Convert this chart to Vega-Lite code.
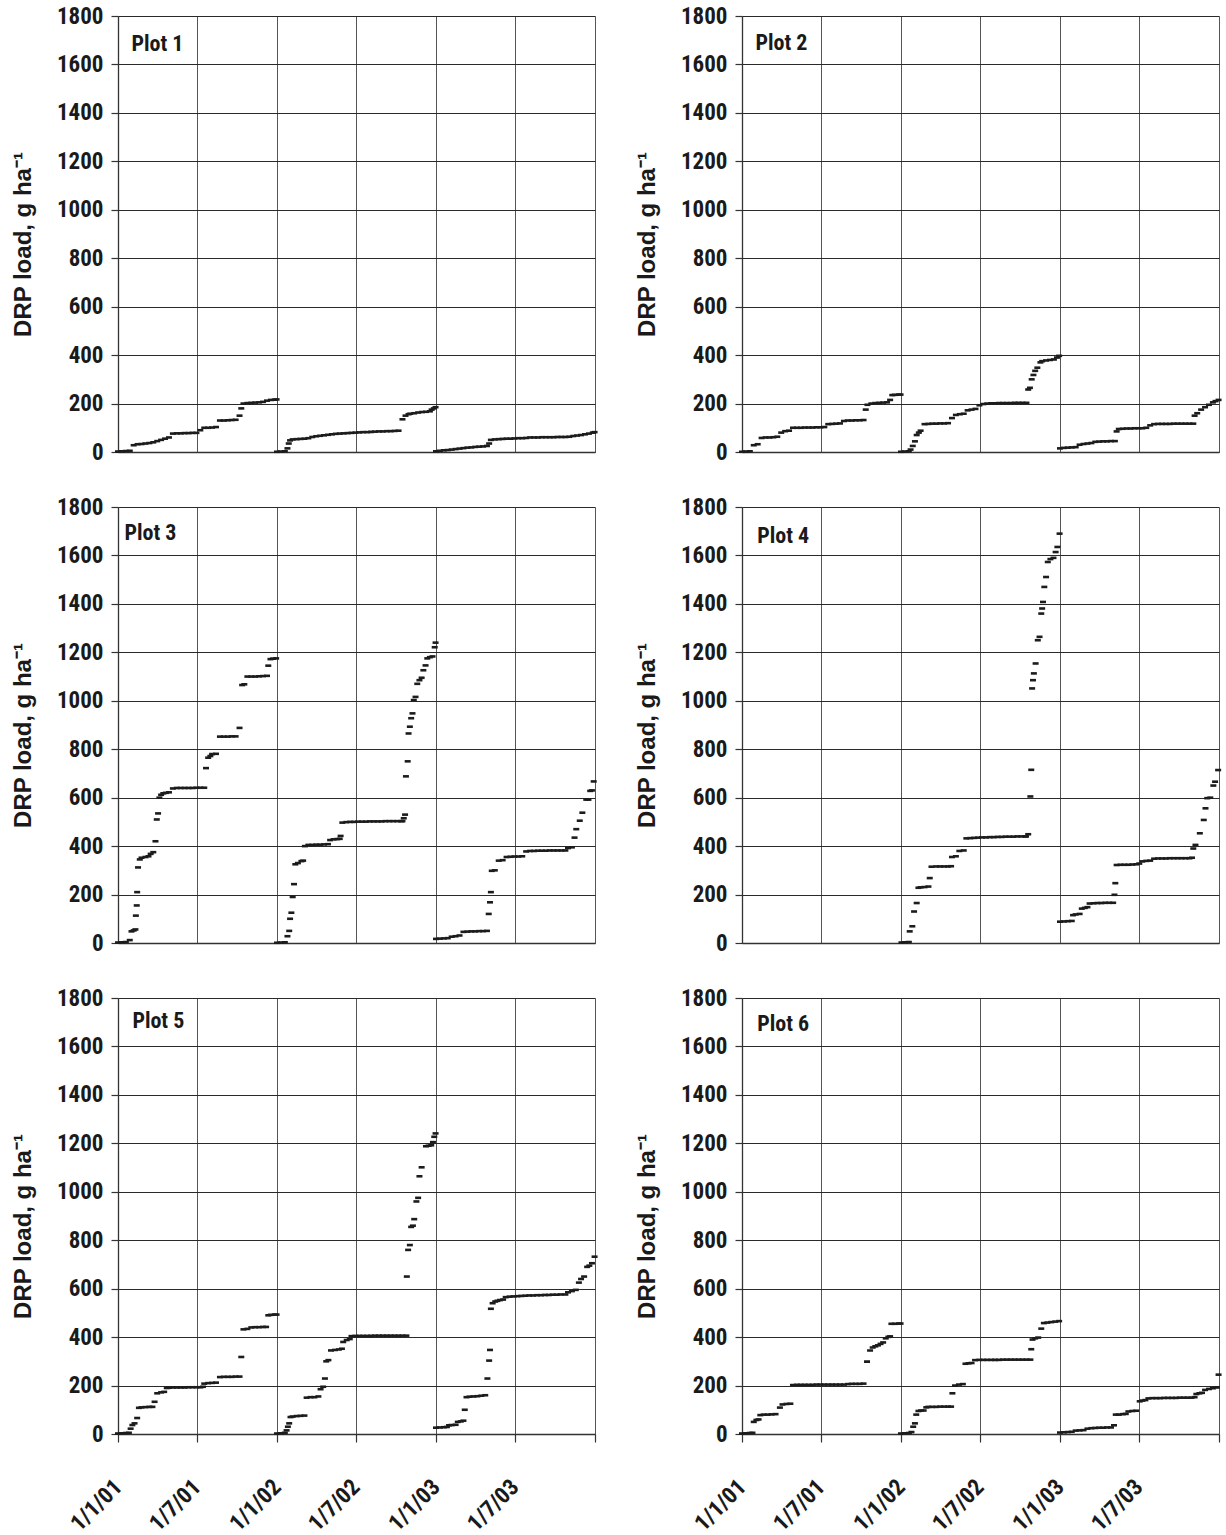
{
  "$schema": "https://vega.github.io/schema/vega-lite/v6.json",
  "background": "white",
  "padding": {"left": 11, "top": 5, "right": 2, "bottom": 0},
  "columns": 2,
  "spacing": {"row": 32, "column": 31},
  "datasets": {
    "plot1": [
      {"date":"2001-01-01","load":2},{"date":"2001-01-10","load":3},{"date":"2001-01-19","load":4},{"date":"2001-01-28","load":5},{"date":"2001-02-06","load":28},{"date":"2001-02-15","load":32},{"date":"2001-02-24","load":33},{"date":"2001-03-05","load":35},{"date":"2001-03-14","load":37},{"date":"2001-03-23","load":40},{"date":"2001-04-01","load":45},{"date":"2001-04-10","load":50},{"date":"2001-04-19","load":55},{"date":"2001-04-28","load":60},{"date":"2001-05-07","load":76},{"date":"2001-05-16","load":77},{"date":"2001-05-25","load":77},{"date":"2001-06-03","load":78},{"date":"2001-06-12","load":78},{"date":"2001-06-21","load":79},{"date":"2001-06-30","load":79},{"date":"2001-07-09","load":90},{"date":"2001-07-18","load":100},{"date":"2001-07-27","load":100},{"date":"2001-08-05","load":101},{"date":"2001-08-14","load":103},{"date":"2001-08-23","load":130},{"date":"2001-09-01","load":130},{"date":"2001-09-10","load":131},{"date":"2001-09-19","load":132},{"date":"2001-09-28","load":133},{"date":"2001-10-07","load":150},{"date":"2001-10-11","load":180},{"date":"2001-10-16","load":200},{"date":"2001-10-25","load":202},{"date":"2001-11-03","load":203},{"date":"2001-11-12","load":204},{"date":"2001-11-21","load":205},{"date":"2001-11-30","load":207},{"date":"2001-12-09","load":212},{"date":"2001-12-18","load":215},{"date":"2001-12-27","load":216},{"date":"2001-12-31","load":217},
      {"date":"2002-01-01","load":1},{"date":"2002-01-10","load":2},{"date":"2002-01-19","load":3},{"date":"2002-01-25","load":15},{"date":"2002-01-28","load":35},{"date":"2002-01-31","load":48},{"date":"2002-02-06","load":52},{"date":"2002-02-15","load":53},{"date":"2002-02-24","load":54},{"date":"2002-03-05","load":55},{"date":"2002-03-14","load":57},{"date":"2002-03-23","load":62},{"date":"2002-04-01","load":65},{"date":"2002-04-10","load":67},{"date":"2002-04-19","load":69},{"date":"2002-04-28","load":71},{"date":"2002-05-07","load":73},{"date":"2002-05-16","load":75},{"date":"2002-05-25","load":76},{"date":"2002-06-03","load":77},{"date":"2002-06-12","load":78},{"date":"2002-06-21","load":79},{"date":"2002-06-30","load":80},{"date":"2002-07-09","load":81},{"date":"2002-07-18","load":82},{"date":"2002-07-27","load":82},{"date":"2002-08-05","load":83},{"date":"2002-08-14","load":84},{"date":"2002-08-23","load":85},{"date":"2002-09-01","load":85},{"date":"2002-09-10","load":86},{"date":"2002-09-19","load":86},{"date":"2002-09-28","load":87},{"date":"2002-10-07","load":88},{"date":"2002-10-16","load":135},{"date":"2002-10-23","load":150},{"date":"2002-10-30","load":156},{"date":"2002-11-03","load":158},{"date":"2002-11-12","load":160},{"date":"2002-11-21","load":163},{"date":"2002-11-30","load":165},{"date":"2002-12-09","load":166},{"date":"2002-12-18","load":168},{"date":"2002-12-22","load":175},{"date":"2002-12-27","load":180},{"date":"2002-12-31","load":185},
      {"date":"2003-01-01","load":3},{"date":"2003-01-10","load":5},{"date":"2003-01-19","load":7},{"date":"2003-01-28","load":8},{"date":"2003-02-06","load":10},{"date":"2003-02-15","load":12},{"date":"2003-02-24","load":14},{"date":"2003-03-05","load":16},{"date":"2003-03-14","load":18},{"date":"2003-03-23","load":19},{"date":"2003-04-01","load":21},{"date":"2003-04-10","load":22},{"date":"2003-04-19","load":23},{"date":"2003-04-28","load":25},{"date":"2003-05-03","load":35},{"date":"2003-05-07","load":50},{"date":"2003-05-16","load":52},{"date":"2003-05-25","load":53},{"date":"2003-06-03","load":54},{"date":"2003-06-12","load":55},{"date":"2003-06-21","load":55},{"date":"2003-06-30","load":56},{"date":"2003-07-09","load":57},{"date":"2003-07-18","load":57},{"date":"2003-07-27","load":58},{"date":"2003-08-05","load":60},{"date":"2003-08-14","load":60},{"date":"2003-08-23","load":60},{"date":"2003-09-01","load":61},{"date":"2003-09-10","load":61},{"date":"2003-09-19","load":61},{"date":"2003-09-28","load":61},{"date":"2003-10-07","load":62},{"date":"2003-10-16","load":62},{"date":"2003-10-25","load":62},{"date":"2003-11-03","load":63},{"date":"2003-11-12","load":66},{"date":"2003-11-21","load":68},{"date":"2003-11-30","load":70},{"date":"2003-12-09","load":73},{"date":"2003-12-18","load":76},{"date":"2003-12-27","load":80},{"date":"2003-12-31","load":82}
    ],
    "plot2": [
      {"date":"2001-01-01","load":1},{"date":"2001-01-10","load":2},{"date":"2001-01-19","load":3},{"date":"2001-01-28","load":28},{"date":"2001-02-06","load":32},{"date":"2001-02-15","load":58},{"date":"2001-02-24","load":60},{"date":"2001-03-05","load":60},{"date":"2001-03-14","load":61},{"date":"2001-03-23","load":63},{"date":"2001-04-01","load":80},{"date":"2001-04-10","load":86},{"date":"2001-04-19","load":88},{"date":"2001-04-28","load":100},{"date":"2001-05-07","load":100},{"date":"2001-05-16","load":100},{"date":"2001-05-25","load":101},{"date":"2001-06-03","load":101},{"date":"2001-06-12","load":101},{"date":"2001-06-21","load":102},{"date":"2001-06-30","load":102},{"date":"2001-07-09","load":103},{"date":"2001-07-18","load":115},{"date":"2001-07-27","load":116},{"date":"2001-08-05","load":117},{"date":"2001-08-14","load":118},{"date":"2001-08-23","load":128},{"date":"2001-09-01","load":130},{"date":"2001-09-10","load":130},{"date":"2001-09-19","load":131},{"date":"2001-09-28","load":131},{"date":"2001-10-07","load":132},{"date":"2001-10-12","load":175},{"date":"2001-10-16","load":195},{"date":"2001-10-25","load":200},{"date":"2001-11-03","load":202},{"date":"2001-11-12","load":203},{"date":"2001-11-21","load":204},{"date":"2001-11-30","load":205},{"date":"2001-12-07","load":215},{"date":"2001-12-12","load":235},{"date":"2001-12-18","load":236},{"date":"2001-12-27","load":237},{"date":"2001-12-31","load":237},
      {"date":"2002-01-01","load":1},{"date":"2002-01-10","load":2},{"date":"2002-01-19","load":3},{"date":"2002-01-23","load":10},{"date":"2002-01-28","load":25},{"date":"2002-02-02","load":44},{"date":"2002-02-06","load":70},{"date":"2002-02-11","load":80},{"date":"2002-02-15","load":88},{"date":"2002-02-24","load":115},{"date":"2002-03-05","load":116},{"date":"2002-03-14","load":117},{"date":"2002-03-23","load":117},{"date":"2002-04-01","load":118},{"date":"2002-04-10","load":118},{"date":"2002-04-19","load":119},{"date":"2002-04-28","load":140},{"date":"2002-05-07","load":153},{"date":"2002-05-16","load":156},{"date":"2002-05-25","load":158},{"date":"2002-06-03","load":172},{"date":"2002-06-12","load":175},{"date":"2002-06-21","load":178},{"date":"2002-06-30","load":193},{"date":"2002-07-09","load":198},{"date":"2002-07-18","load":200},{"date":"2002-07-27","load":201},{"date":"2002-08-05","load":201},{"date":"2002-08-14","load":202},{"date":"2002-08-23","load":202},{"date":"2002-09-01","load":202},{"date":"2002-09-10","load":202},{"date":"2002-09-19","load":203},{"date":"2002-09-28","load":203},{"date":"2002-10-07","load":203},{"date":"2002-10-16","load":203},{"date":"2002-10-20","load":258},{"date":"2002-10-24","load":265},{"date":"2002-10-28","load":300},{"date":"2002-11-01","load":318},{"date":"2002-11-05","load":335},{"date":"2002-11-10","load":348},{"date":"2002-11-17","load":370},{"date":"2002-11-21","load":375},{"date":"2002-11-30","load":378},{"date":"2002-12-09","load":380},{"date":"2002-12-18","load":382},{"date":"2002-12-25","load":390},{"date":"2002-12-30","load":397},
      {"date":"2003-01-01","load":15},{"date":"2003-01-10","load":17},{"date":"2003-01-19","load":18},{"date":"2003-01-28","load":19},{"date":"2003-02-06","load":20},{"date":"2003-02-15","load":30},{"date":"2003-02-24","load":33},{"date":"2003-03-05","load":35},{"date":"2003-03-14","load":37},{"date":"2003-03-23","load":42},{"date":"2003-04-01","load":43},{"date":"2003-04-10","load":44},{"date":"2003-04-19","load":44},{"date":"2003-04-28","load":45},{"date":"2003-05-07","load":45},{"date":"2003-05-11","load":85},{"date":"2003-05-16","load":95},{"date":"2003-05-25","load":96},{"date":"2003-06-03","load":97},{"date":"2003-06-12","load":97},{"date":"2003-06-21","load":98},{"date":"2003-06-30","load":98},{"date":"2003-07-09","load":98},{"date":"2003-07-18","load":100},{"date":"2003-07-27","load":110},{"date":"2003-08-05","load":115},{"date":"2003-08-14","load":116},{"date":"2003-08-23","load":116},{"date":"2003-09-01","load":116},{"date":"2003-09-10","load":116},{"date":"2003-09-19","load":117},{"date":"2003-09-28","load":117},{"date":"2003-10-07","load":117},{"date":"2003-10-16","load":117},{"date":"2003-10-25","load":117},{"date":"2003-11-03","load":117},{"date":"2003-11-06","load":150},{"date":"2003-11-12","load":160},{"date":"2003-11-21","load":175},{"date":"2003-11-30","load":185},{"date":"2003-12-09","load":195},{"date":"2003-12-18","load":205},{"date":"2003-12-24","load":210},{"date":"2003-12-31","load":215}
    ],
    "plot3": [
      {"date":"2001-01-01","load":2},{"date":"2001-01-10","load":3},{"date":"2001-01-19","load":4},{"date":"2001-01-28","load":12},{"date":"2001-02-01","load":48},{"date":"2001-02-06","load":52},{"date":"2001-02-10","load":56},{"date":"2001-02-11","load":113},{"date":"2001-02-13","load":155},{"date":"2001-02-14","load":210},{"date":"2001-02-16","load":312},{"date":"2001-02-20","load":345},{"date":"2001-02-24","load":352},{"date":"2001-03-05","load":355},{"date":"2001-03-12","load":358},{"date":"2001-03-17","load":368},{"date":"2001-03-23","load":375},{"date":"2001-03-28","load":420},{"date":"2001-03-31","load":510},{"date":"2001-04-03","load":535},{"date":"2001-04-06","load":600},{"date":"2001-04-10","load":612},{"date":"2001-04-15","load":618},{"date":"2001-04-21","load":620},{"date":"2001-04-28","load":622},{"date":"2001-05-07","load":638},{"date":"2001-05-16","load":640},{"date":"2001-05-25","load":640},{"date":"2001-06-03","load":640},{"date":"2001-06-12","load":640},{"date":"2001-06-21","load":640},{"date":"2001-06-30","load":641},{"date":"2001-07-09","load":641},{"date":"2001-07-18","load":641},{"date":"2001-07-22","load":722},{"date":"2001-07-27","load":765},{"date":"2001-08-01","load":772},{"date":"2001-08-05","load":780},{"date":"2001-08-14","load":781},{"date":"2001-08-23","load":852},{"date":"2001-09-01","load":852},{"date":"2001-09-10","load":852},{"date":"2001-09-19","load":853},{"date":"2001-09-28","load":853},{"date":"2001-10-07","load":888},{"date":"2001-10-13","load":1065},{"date":"2001-10-18","load":1068},{"date":"2001-10-25","load":1100},{"date":"2001-11-03","load":1100},{"date":"2001-11-12","load":1100},{"date":"2001-11-21","load":1101},{"date":"2001-11-30","load":1102},{"date":"2001-12-09","load":1103},{"date":"2001-12-12","load":1145},{"date":"2001-12-17","load":1172},{"date":"2001-12-23","load":1174},{"date":"2001-12-30","load":1175},
      {"date":"2002-01-01","load":1},{"date":"2002-01-10","load":2},{"date":"2002-01-19","load":3},{"date":"2002-01-25","load":28},{"date":"2002-01-29","load":50},{"date":"2002-01-31","load":100},{"date":"2002-02-03","load":125},{"date":"2002-02-06","load":190},{"date":"2002-02-09","load":243},{"date":"2002-02-12","load":325},{"date":"2002-02-18","load":330},{"date":"2002-02-26","load":338},{"date":"2002-03-02","load":340},{"date":"2002-03-06","load":400},{"date":"2002-03-14","load":405},{"date":"2002-03-23","load":405},{"date":"2002-04-01","load":406},{"date":"2002-04-10","load":406},{"date":"2002-04-19","load":407},{"date":"2002-04-28","load":408},{"date":"2002-05-03","load":425},{"date":"2002-05-11","load":428},{"date":"2002-05-19","load":429},{"date":"2002-05-25","load":430},{"date":"2002-05-27","load":442},{"date":"2002-05-31","load":497},{"date":"2002-06-09","load":499},{"date":"2002-06-18","load":500},{"date":"2002-06-27","load":500},{"date":"2002-07-06","load":501},{"date":"2002-07-15","load":501},{"date":"2002-07-24","load":501},{"date":"2002-08-02","load":502},{"date":"2002-08-11","load":502},{"date":"2002-08-20","load":502},{"date":"2002-08-29","load":502},{"date":"2002-09-07","load":503},{"date":"2002-09-16","load":503},{"date":"2002-09-25","load":503},{"date":"2002-10-04","load":503},{"date":"2002-10-13","load":503},{"date":"2002-10-16","load":503},{"date":"2002-10-19","load":515},{"date":"2002-10-22","load":530},{"date":"2002-10-24","load":688},{"date":"2002-10-28","load":750},{"date":"2002-10-30","load":865},{"date":"2002-11-02","load":893},{"date":"2002-11-05","load":928},{"date":"2002-11-08","load":948},{"date":"2002-11-11","load":1003},{"date":"2002-11-15","load":1016},{"date":"2002-11-19","load":1070},{"date":"2002-11-24","load":1085},{"date":"2002-11-29","load":1095},{"date":"2002-12-03","load":1126},{"date":"2002-12-08","load":1146},{"date":"2002-12-12","load":1175},{"date":"2002-12-18","load":1180},{"date":"2002-12-24","load":1183},{"date":"2002-12-29","load":1221},{"date":"2002-12-31","load":1240},
      {"date":"2003-01-01","load":17},{"date":"2003-01-10","load":18},{"date":"2003-01-19","load":19},{"date":"2003-01-28","load":20},{"date":"2003-02-06","load":26},{"date":"2003-02-15","load":28},{"date":"2003-02-24","load":31},{"date":"2003-03-05","load":46},{"date":"2003-03-14","load":47},{"date":"2003-03-23","load":48},{"date":"2003-04-01","load":48},{"date":"2003-04-10","load":49},{"date":"2003-04-19","load":49},{"date":"2003-04-28","load":50},{"date":"2003-05-02","load":120},{"date":"2003-05-05","load":168},{"date":"2003-05-07","load":210},{"date":"2003-05-09","load":298},{"date":"2003-05-16","load":300},{"date":"2003-05-25","load":340},{"date":"2003-06-03","load":342},{"date":"2003-06-12","load":355},{"date":"2003-06-21","load":356},{"date":"2003-06-30","load":357},{"date":"2003-07-09","load":357},{"date":"2003-07-18","load":358},{"date":"2003-07-27","load":378},{"date":"2003-08-05","load":380},{"date":"2003-08-14","load":380},{"date":"2003-08-23","load":381},{"date":"2003-09-01","load":381},{"date":"2003-09-10","load":381},{"date":"2003-09-19","load":382},{"date":"2003-09-28","load":382},{"date":"2003-10-07","load":382},{"date":"2003-10-16","load":382},{"date":"2003-10-25","load":382},{"date":"2003-10-31","load":392},{"date":"2003-11-09","load":395},{"date":"2003-11-15","load":435},{"date":"2003-11-19","load":470},{"date":"2003-11-27","load":505},{"date":"2003-12-03","load":538},{"date":"2003-12-12","load":592},{"date":"2003-12-17","load":592},{"date":"2003-12-21","load":628},{"date":"2003-12-25","load":630},{"date":"2003-12-29","load":667}
    ],
    "plot4": [
      {"date":"2002-01-02","load":2},{"date":"2002-01-10","load":3},{"date":"2002-01-19","load":4},{"date":"2002-01-21","load":48},{"date":"2002-01-27","load":69},{"date":"2002-01-31","load":130},{"date":"2002-02-06","load":165},{"date":"2002-02-10","load":228},{"date":"2002-02-15","load":230},{"date":"2002-02-24","load":231},{"date":"2002-03-05","load":233},{"date":"2002-03-08","load":268},{"date":"2002-03-12","load":315},{"date":"2002-03-23","load":316},{"date":"2002-04-01","load":316},{"date":"2002-04-10","load":316},{"date":"2002-04-19","load":316},{"date":"2002-04-26","load":317},{"date":"2002-04-28","load":355},{"date":"2002-05-07","load":358},{"date":"2002-05-15","load":380},{"date":"2002-05-25","load":382},{"date":"2002-05-31","load":432},{"date":"2002-06-09","load":433},{"date":"2002-06-18","load":434},{"date":"2002-06-27","load":435},{"date":"2002-07-06","load":436},{"date":"2002-07-15","load":436},{"date":"2002-07-24","load":437},{"date":"2002-08-02","load":437},{"date":"2002-08-11","load":438},{"date":"2002-08-20","load":438},{"date":"2002-08-29","load":439},{"date":"2002-09-07","load":439},{"date":"2002-09-16","load":439},{"date":"2002-09-25","load":440},{"date":"2002-10-04","load":440},{"date":"2002-10-13","load":440},{"date":"2002-10-15","load":440},{"date":"2002-10-20","load":449},{"date":"2002-10-25","load":605},{"date":"2002-10-27","load":715},{"date":"2002-10-29","load":1051},{"date":"2002-10-31","load":1085},{"date":"2002-11-02","load":1113},{"date":"2002-11-06","load":1154},{"date":"2002-11-11","load":1250},{"date":"2002-11-15","load":1264},{"date":"2002-11-19","load":1360},{"date":"2002-11-21","load":1381},{"date":"2002-11-23","load":1408},{"date":"2002-11-26","load":1470},{"date":"2002-11-30","load":1511},{"date":"2002-12-04","load":1573},{"date":"2002-12-10","load":1585},{"date":"2002-12-17","load":1590},{"date":"2002-12-22","load":1614},{"date":"2002-12-26","load":1635},{"date":"2002-12-31","load":1690},
      {"date":"2003-01-01","load":88},{"date":"2003-01-10","load":89},{"date":"2003-01-19","load":90},{"date":"2003-01-28","load":91},{"date":"2003-01-31","load":115},{"date":"2003-02-06","load":118},{"date":"2003-02-15","load":120},{"date":"2003-02-20","load":142},{"date":"2003-02-27","load":145},{"date":"2003-03-05","load":148},{"date":"2003-03-10","load":163},{"date":"2003-03-19","load":164},{"date":"2003-03-28","load":165},{"date":"2003-04-06","load":165},{"date":"2003-04-15","load":166},{"date":"2003-04-24","load":166},{"date":"2003-05-03","load":166},{"date":"2003-05-06","load":199},{"date":"2003-05-08","load":247},{"date":"2003-05-11","load":322},{"date":"2003-05-20","load":323},{"date":"2003-05-29","load":323},{"date":"2003-06-07","load":323},{"date":"2003-06-16","load":324},{"date":"2003-06-25","load":325},{"date":"2003-07-02","load":328},{"date":"2003-07-09","load":337},{"date":"2003-07-18","load":339},{"date":"2003-07-27","load":340},{"date":"2003-08-05","load":348},{"date":"2003-08-14","load":349},{"date":"2003-08-23","load":349},{"date":"2003-09-01","load":349},{"date":"2003-09-10","load":350},{"date":"2003-09-19","load":350},{"date":"2003-09-28","load":350},{"date":"2003-10-07","load":350},{"date":"2003-10-16","load":350},{"date":"2003-10-25","load":350},{"date":"2003-10-31","load":352},{"date":"2003-11-03","load":390},{"date":"2003-11-08","load":405},{"date":"2003-11-18","load":453},{"date":"2003-11-27","load":508},{"date":"2003-12-01","load":556},{"date":"2003-12-05","load":598},{"date":"2003-12-12","load":600},{"date":"2003-12-19","load":650},{"date":"2003-12-23","load":666},{"date":"2003-12-30","load":714}
    ],
    "plot5": [
      {"date":"2001-01-01","load":2},{"date":"2001-01-10","load":3},{"date":"2001-01-19","load":4},{"date":"2001-01-26","load":5},{"date":"2001-01-30","load":22},{"date":"2001-02-03","load":37},{"date":"2001-02-08","load":44},{"date":"2001-02-14","load":66},{"date":"2001-02-18","load":108},{"date":"2001-02-24","load":110},{"date":"2001-03-05","load":111},{"date":"2001-03-14","load":112},{"date":"2001-03-21","load":112},{"date":"2001-03-26","load":133},{"date":"2001-04-01","load":168},{"date":"2001-04-10","load":172},{"date":"2001-04-17","load":174},{"date":"2001-04-23","load":190},{"date":"2001-04-28","load":191},{"date":"2001-05-07","load":192},{"date":"2001-05-16","load":192},{"date":"2001-05-25","load":192},{"date":"2001-06-03","load":192},{"date":"2001-06-12","load":193},{"date":"2001-06-21","load":193},{"date":"2001-06-30","load":193},{"date":"2001-07-09","load":193},{"date":"2001-07-15","load":195},{"date":"2001-07-18","load":208},{"date":"2001-07-27","load":210},{"date":"2001-08-05","load":211},{"date":"2001-08-14","load":212},{"date":"2001-08-23","load":235},{"date":"2001-09-01","load":236},{"date":"2001-09-10","load":236},{"date":"2001-09-19","load":236},{"date":"2001-09-28","load":237},{"date":"2001-10-07","load":237},{"date":"2001-10-11","load":318},{"date":"2001-10-16","load":432},{"date":"2001-10-25","load":434},{"date":"2001-11-03","load":440},{"date":"2001-11-12","load":441},{"date":"2001-11-21","load":441},{"date":"2001-11-30","load":442},{"date":"2001-12-07","load":442},{"date":"2001-12-12","load":490},{"date":"2001-12-18","load":492},{"date":"2001-12-27","load":493},{"date":"2001-12-31","load":493},
      {"date":"2002-01-01","load":2},{"date":"2002-01-10","load":3},{"date":"2002-01-19","load":5},{"date":"2002-01-23","load":15},{"date":"2002-01-26","load":30},{"date":"2002-01-29","load":44},{"date":"2002-02-01","load":70},{"date":"2002-02-06","load":72},{"date":"2002-02-15","load":74},{"date":"2002-02-24","load":75},{"date":"2002-03-05","load":76},{"date":"2002-03-10","load":150},{"date":"2002-03-19","load":152},{"date":"2002-03-28","load":152},{"date":"2002-04-06","load":155},{"date":"2002-04-11","load":185},{"date":"2002-04-17","load":195},{"date":"2002-04-21","load":229},{"date":"2002-04-24","load":300},{"date":"2002-04-29","load":305},{"date":"2002-05-05","load":345},{"date":"2002-05-14","load":347},{"date":"2002-05-23","load":349},{"date":"2002-05-30","load":352},{"date":"2002-06-02","load":380},{"date":"2002-06-10","load":388},{"date":"2002-06-17","load":392},{"date":"2002-06-21","load":404},{"date":"2002-06-30","load":405},{"date":"2002-07-09","load":405},{"date":"2002-07-18","load":405},{"date":"2002-07-27","load":405},{"date":"2002-08-05","load":405},{"date":"2002-08-14","load":406},{"date":"2002-08-23","load":406},{"date":"2002-09-01","load":406},{"date":"2002-09-10","load":406},{"date":"2002-09-19","load":406},{"date":"2002-09-28","load":406},{"date":"2002-10-07","load":406},{"date":"2002-10-16","load":406},{"date":"2002-10-25","load":406},{"date":"2002-10-26","load":650},{"date":"2002-10-29","load":760},{"date":"2002-11-02","load":780},{"date":"2002-11-05","load":855},{"date":"2002-11-09","load":860},{"date":"2002-11-12","load":887},{"date":"2002-11-17","load":960},{"date":"2002-11-21","load":975},{"date":"2002-11-24","load":1064},{"date":"2002-11-29","load":1101},{"date":"2002-12-09","load":1188},{"date":"2002-12-15","load":1190},{"date":"2002-12-21","load":1192},{"date":"2002-12-25","load":1205},{"date":"2002-12-28","load":1227},{"date":"2002-12-31","load":1241},
      {"date":"2003-01-01","load":26},{"date":"2003-01-10","load":27},{"date":"2003-01-19","load":28},{"date":"2003-01-26","load":29},{"date":"2003-01-31","load":36},{"date":"2003-02-06","load":37},{"date":"2003-02-15","load":38},{"date":"2003-02-20","load":50},{"date":"2003-02-27","load":52},{"date":"2003-03-05","load":55},{"date":"2003-03-08","load":100},{"date":"2003-03-12","load":152},{"date":"2003-03-19","load":154},{"date":"2003-03-28","load":155},{"date":"2003-04-06","load":156},{"date":"2003-04-15","load":158},{"date":"2003-04-24","load":160},{"date":"2003-04-29","load":229},{"date":"2003-05-03","load":303},{"date":"2003-05-05","load":347},{"date":"2003-05-07","load":517},{"date":"2003-05-11","load":540},{"date":"2003-05-17","load":547},{"date":"2003-05-22","load":550},{"date":"2003-05-28","load":553},{"date":"2003-06-04","load":555},{"date":"2003-06-10","load":565},{"date":"2003-06-19","load":567},{"date":"2003-06-28","load":568},{"date":"2003-07-07","load":569},{"date":"2003-07-16","load":570},{"date":"2003-07-25","load":571},{"date":"2003-08-03","load":572},{"date":"2003-08-12","load":572},{"date":"2003-08-21","load":573},{"date":"2003-08-30","load":573},{"date":"2003-09-08","load":574},{"date":"2003-09-17","load":574},{"date":"2003-09-26","load":575},{"date":"2003-10-05","load":575},{"date":"2003-10-14","load":576},{"date":"2003-10-25","load":576},{"date":"2003-10-31","load":585},{"date":"2003-11-09","load":590},{"date":"2003-11-18","load":595},{"date":"2003-11-25","load":625},{"date":"2003-11-30","load":640},{"date":"2003-12-07","load":650},{"date":"2003-12-14","load":690},{"date":"2003-12-19","load":695},{"date":"2003-12-25","load":705},{"date":"2003-12-31","load":732}
    ],
    "plot6": [
      {"date":"2001-01-01","load":2},{"date":"2001-01-10","load":3},{"date":"2001-01-19","load":4},{"date":"2001-01-25","load":5},{"date":"2001-01-28","load":50},{"date":"2001-02-03","load":58},{"date":"2001-02-08","load":60},{"date":"2001-02-12","load":78},{"date":"2001-02-20","load":80},{"date":"2001-03-01","load":80},{"date":"2001-03-10","load":81},{"date":"2001-03-19","load":82},{"date":"2001-03-29","load":109},{"date":"2001-04-04","load":122},{"date":"2001-04-13","load":124},{"date":"2001-04-22","load":125},{"date":"2001-04-28","load":202},{"date":"2001-05-07","load":203},{"date":"2001-05-16","load":203},{"date":"2001-05-25","load":203},{"date":"2001-06-03","load":203},{"date":"2001-06-12","load":203},{"date":"2001-06-21","load":204},{"date":"2001-06-30","load":204},{"date":"2001-07-09","load":204},{"date":"2001-07-18","load":204},{"date":"2001-07-27","load":204},{"date":"2001-08-05","load":204},{"date":"2001-08-14","load":204},{"date":"2001-08-23","load":204},{"date":"2001-09-01","load":206},{"date":"2001-09-10","load":207},{"date":"2001-09-19","load":207},{"date":"2001-09-28","load":207},{"date":"2001-10-07","load":208},{"date":"2001-10-15","load":299},{"date":"2001-10-22","load":345},{"date":"2001-10-28","load":357},{"date":"2001-11-03","load":362},{"date":"2001-11-09","load":366},{"date":"2001-11-15","load":372},{"date":"2001-11-21","load":378},{"date":"2001-11-27","load":395},{"date":"2001-12-03","load":401},{"date":"2001-12-07","load":403},{"date":"2001-12-10","load":455},{"date":"2001-12-18","load":455},{"date":"2001-12-27","load":456},{"date":"2001-12-31","load":456},
      {"date":"2002-01-01","load":2},{"date":"2002-01-10","load":3},{"date":"2002-01-19","load":4},{"date":"2002-01-25","load":8},{"date":"2002-01-29","load":30},{"date":"2002-02-02","load":44},{"date":"2002-02-05","load":80},{"date":"2002-02-10","load":95},{"date":"2002-02-16","load":97},{"date":"2002-02-22","load":97},{"date":"2002-02-28","load":110},{"date":"2002-03-05","load":112},{"date":"2002-03-14","load":112},{"date":"2002-03-23","load":112},{"date":"2002-04-01","load":113},{"date":"2002-04-10","load":113},{"date":"2002-04-19","load":113},{"date":"2002-04-26","load":113},{"date":"2002-04-29","load":168},{"date":"2002-05-05","load":200},{"date":"2002-05-14","load":204},{"date":"2002-05-23","load":206},{"date":"2002-05-29","load":290},{"date":"2002-06-05","load":292},{"date":"2002-06-12","load":293},{"date":"2002-06-20","load":305},{"date":"2002-06-30","load":306},{"date":"2002-07-09","load":306},{"date":"2002-07-18","load":306},{"date":"2002-07-27","load":306},{"date":"2002-08-05","load":306},{"date":"2002-08-14","load":306},{"date":"2002-08-23","load":307},{"date":"2002-09-01","load":307},{"date":"2002-09-10","load":307},{"date":"2002-09-19","load":307},{"date":"2002-09-28","load":307},{"date":"2002-10-07","load":307},{"date":"2002-10-16","load":307},{"date":"2002-10-25","load":307},{"date":"2002-10-27","load":350},{"date":"2002-10-30","load":390},{"date":"2002-11-05","load":395},{"date":"2002-11-12","load":398},{"date":"2002-11-19","load":435},{"date":"2002-11-25","load":458},{"date":"2002-12-03","load":460},{"date":"2002-12-12","load":462},{"date":"2002-12-21","load":464},{"date":"2002-12-30","load":466},
      {"date":"2003-01-01","load":6},{"date":"2003-01-10","load":7},{"date":"2003-01-19","load":8},{"date":"2003-01-28","load":9},{"date":"2003-02-06","load":14},{"date":"2003-02-15","load":15},{"date":"2003-02-24","load":16},{"date":"2003-03-05","load":22},{"date":"2003-03-14","load":24},{"date":"2003-03-23","load":25},{"date":"2003-04-01","load":26},{"date":"2003-04-10","load":26},{"date":"2003-04-19","load":27},{"date":"2003-04-28","load":27},{"date":"2003-05-05","load":36},{"date":"2003-05-09","load":80},{"date":"2003-05-16","load":80},{"date":"2003-05-25","load":82},{"date":"2003-06-01","load":83},{"date":"2003-06-07","load":93},{"date":"2003-06-16","load":95},{"date":"2003-06-25","load":96},{"date":"2003-07-03","load":135},{"date":"2003-07-09","load":138},{"date":"2003-07-16","load":140},{"date":"2003-07-23","load":147},{"date":"2003-08-01","load":148},{"date":"2003-08-10","load":148},{"date":"2003-08-19","load":148},{"date":"2003-08-28","load":149},{"date":"2003-09-06","load":149},{"date":"2003-09-15","load":149},{"date":"2003-09-24","load":149},{"date":"2003-10-03","load":150},{"date":"2003-10-12","load":150},{"date":"2003-10-21","load":150},{"date":"2003-10-30","load":150},{"date":"2003-11-06","load":152},{"date":"2003-11-10","load":165},{"date":"2003-11-17","load":168},{"date":"2003-11-23","load":170},{"date":"2003-11-30","load":182},{"date":"2003-12-09","load":186},{"date":"2003-12-18","load":189},{"date":"2003-12-27","load":192},{"date":"2003-12-31","load":245}
    ]
  },
  "concat": [
    {
      "width": 477, "height": 436,
      "layer": [
        {"data": {"name": "plot1"},
         "mark": {"type": "tick", "orient": "horizontal", "size": 6, "thickness": 2.6, "color": "#1c1c1c", "opacity": 1},
         "encoding": {
           "x": {"field": "date", "type": "temporal", "scale": {"type": "utc", "nice": false, "domain": [{"year": 2001, "month": 1, "date": 1, "utc": true}, {"year": 2004, "month": 1, "date": 1, "utc": true}]},
                 "axis": {"title": null, "labels": false, "ticks": false, "values": [{"year": 2001, "month": 1, "date": 1, "utc": true}, {"year": 2001, "month": 7, "date": 1, "utc": true}, {"year": 2002, "month": 1, "date": 1, "utc": true}, {"year": 2002, "month": 7, "date": 1, "utc": true}, {"year": 2003, "month": 1, "date": 1, "utc": true}, {"year": 2003, "month": 7, "date": 1, "utc": true}, {"year": 2004, "month": 1, "date": 1, "utc": true}]}},
           "y": {"field": "load", "type": "quantitative", "scale": {"domain": [0, 1800], "nice": false}, "axis": {"title": "DRP load, g ha⁻¹", "format": "d", "values": [0, 200, 400, 600, 800, 1000, 1200, 1400, 1600, 1800]}}
         }},
        {"data": {"values": [{"label": "Plot 1"}]},
         "mark": {"type": "text", "align": "left", "baseline": "alphabetic", "font": "'Liberation Sans Narrow', 'Roboto Condensed', 'Arial Narrow', 'Liberation Sans', sans-serif", "fontWeight": "bold", "fontSize": 22, "color": "#1a1a1a"},
         "encoding": {
           "x": {"datum": {"year": 2001, "month": 2, "date": 1, "utc": true}, "type": "temporal"},
           "y": {"datum": 1655, "type": "quantitative"},
           "text": {"field": "label"}
         }}
      ]
    },
    {
      "width": 477, "height": 436,
      "layer": [
        {"data": {"name": "plot2"},
         "mark": {"type": "tick", "orient": "horizontal", "size": 6, "thickness": 2.6, "color": "#1c1c1c", "opacity": 1},
         "encoding": {
           "x": {"field": "date", "type": "temporal", "scale": {"type": "utc", "nice": false, "domain": [{"year": 2001, "month": 1, "date": 1, "utc": true}, {"year": 2004, "month": 1, "date": 1, "utc": true}]},
                 "axis": {"title": null, "labels": false, "ticks": false, "values": [{"year": 2001, "month": 1, "date": 1, "utc": true}, {"year": 2001, "month": 7, "date": 1, "utc": true}, {"year": 2002, "month": 1, "date": 1, "utc": true}, {"year": 2002, "month": 7, "date": 1, "utc": true}, {"year": 2003, "month": 1, "date": 1, "utc": true}, {"year": 2003, "month": 7, "date": 1, "utc": true}, {"year": 2004, "month": 1, "date": 1, "utc": true}]}},
           "y": {"field": "load", "type": "quantitative", "scale": {"domain": [0, 1800], "nice": false}, "axis": {"title": "DRP load, g ha⁻¹", "format": "d", "values": [0, 200, 400, 600, 800, 1000, 1200, 1400, 1600, 1800]}}
         }},
        {"data": {"values": [{"label": "Plot 2"}]},
         "mark": {"type": "text", "align": "left", "baseline": "alphabetic", "font": "'Liberation Sans Narrow', 'Roboto Condensed', 'Arial Narrow', 'Liberation Sans', sans-serif", "fontWeight": "bold", "fontSize": 22, "color": "#1a1a1a"},
         "encoding": {
           "x": {"datum": {"year": 2001, "month": 2, "date": 1, "utc": true}, "type": "temporal"},
           "y": {"datum": 1660, "type": "quantitative"},
           "text": {"field": "label"}
         }}
      ]
    },
    {
      "width": 477, "height": 436,
      "layer": [
        {"data": {"name": "plot3"},
         "mark": {"type": "tick", "orient": "horizontal", "size": 6, "thickness": 2.6, "color": "#1c1c1c", "opacity": 1},
         "encoding": {
           "x": {"field": "date", "type": "temporal", "scale": {"type": "utc", "nice": false, "domain": [{"year": 2001, "month": 1, "date": 1, "utc": true}, {"year": 2004, "month": 1, "date": 1, "utc": true}]},
                 "axis": {"title": null, "labels": false, "ticks": false, "values": [{"year": 2001, "month": 1, "date": 1, "utc": true}, {"year": 2001, "month": 7, "date": 1, "utc": true}, {"year": 2002, "month": 1, "date": 1, "utc": true}, {"year": 2002, "month": 7, "date": 1, "utc": true}, {"year": 2003, "month": 1, "date": 1, "utc": true}, {"year": 2003, "month": 7, "date": 1, "utc": true}, {"year": 2004, "month": 1, "date": 1, "utc": true}]}},
           "y": {"field": "load", "type": "quantitative", "scale": {"domain": [0, 1800], "nice": false}, "axis": {"title": "DRP load, g ha⁻¹", "format": "d", "values": [0, 200, 400, 600, 800, 1000, 1200, 1400, 1600, 1800]}}
         }},
        {"data": {"values": [{"label": "Plot 3"}]},
         "mark": {"type": "text", "align": "left", "baseline": "alphabetic", "font": "'Liberation Sans Narrow', 'Roboto Condensed', 'Arial Narrow', 'Liberation Sans', sans-serif", "fontWeight": "bold", "fontSize": 22, "color": "#1a1a1a"},
         "encoding": {
           "x": {"datum": {"year": 2001, "month": 1, "date": 16, "utc": true}, "type": "temporal"},
           "y": {"datum": 1665, "type": "quantitative"},
           "text": {"field": "label"}
         }}
      ]
    },
    {
      "width": 477, "height": 436,
      "layer": [
        {"data": {"name": "plot4"},
         "mark": {"type": "tick", "orient": "horizontal", "size": 6, "thickness": 2.6, "color": "#1c1c1c", "opacity": 1},
         "encoding": {
           "x": {"field": "date", "type": "temporal", "scale": {"type": "utc", "nice": false, "domain": [{"year": 2001, "month": 1, "date": 1, "utc": true}, {"year": 2004, "month": 1, "date": 1, "utc": true}]},
                 "axis": {"title": null, "labels": false, "ticks": false, "values": [{"year": 2001, "month": 1, "date": 1, "utc": true}, {"year": 2001, "month": 7, "date": 1, "utc": true}, {"year": 2002, "month": 1, "date": 1, "utc": true}, {"year": 2002, "month": 7, "date": 1, "utc": true}, {"year": 2003, "month": 1, "date": 1, "utc": true}, {"year": 2003, "month": 7, "date": 1, "utc": true}, {"year": 2004, "month": 1, "date": 1, "utc": true}]}},
           "y": {"field": "load", "type": "quantitative", "scale": {"domain": [0, 1800], "nice": false}, "axis": {"title": "DRP load, g ha⁻¹", "format": "d", "values": [0, 200, 400, 600, 800, 1000, 1200, 1400, 1600, 1800]}}
         }},
        {"data": {"values": [{"label": "Plot 4"}]},
         "mark": {"type": "text", "align": "left", "baseline": "alphabetic", "font": "'Liberation Sans Narrow', 'Roboto Condensed', 'Arial Narrow', 'Liberation Sans', sans-serif", "fontWeight": "bold", "fontSize": 22, "color": "#1a1a1a"},
         "encoding": {
           "x": {"datum": {"year": 2001, "month": 2, "date": 5, "utc": true}, "type": "temporal"},
           "y": {"datum": 1650, "type": "quantitative"},
           "text": {"field": "label"}
         }}
      ]
    },
    {
      "width": 477, "height": 436,
      "layer": [
        {"data": {"name": "plot5"},
         "mark": {"type": "tick", "orient": "horizontal", "size": 6, "thickness": 2.6, "color": "#1c1c1c", "opacity": 1},
         "encoding": {
           "x": {"field": "date", "type": "temporal", "scale": {"type": "utc", "nice": false, "domain": [{"year": 2001, "month": 1, "date": 1, "utc": true}, {"year": 2004, "month": 1, "date": 1, "utc": true}]},
                 "axis": {"title": null, "format": "%-d/%-m/%y", "labelAngle": -45, "labelAlign": "right", "labelBaseline": "middle", "labelPadding": 41, "tickSize": 8, "labelFlush": false, "labelOverlap": false, "labelExpr": "utcyear(datum.value) >= 2004 ? '' : datum.label", "values": [{"year": 2001, "month": 1, "date": 1, "utc": true}, {"year": 2001, "month": 7, "date": 1, "utc": true}, {"year": 2002, "month": 1, "date": 1, "utc": true}, {"year": 2002, "month": 7, "date": 1, "utc": true}, {"year": 2003, "month": 1, "date": 1, "utc": true}, {"year": 2003, "month": 7, "date": 1, "utc": true}, {"year": 2004, "month": 1, "date": 1, "utc": true}]}},
           "y": {"field": "load", "type": "quantitative", "scale": {"domain": [0, 1800], "nice": false}, "axis": {"title": "DRP load, g ha⁻¹", "format": "d", "values": [0, 200, 400, 600, 800, 1000, 1200, 1400, 1600, 1800]}}
         }},
        {"data": {"values": [{"label": "Plot 5"}]},
         "mark": {"type": "text", "align": "left", "baseline": "alphabetic", "font": "'Liberation Sans Narrow', 'Roboto Condensed', 'Arial Narrow', 'Liberation Sans', sans-serif", "fontWeight": "bold", "fontSize": 22, "color": "#1a1a1a"},
         "encoding": {
           "x": {"datum": {"year": 2001, "month": 2, "date": 3, "utc": true}, "type": "temporal"},
           "y": {"datum": 1675, "type": "quantitative"},
           "text": {"field": "label"}
         }}
      ]
    },
    {
      "width": 477, "height": 436,
      "layer": [
        {"data": {"name": "plot6"},
         "mark": {"type": "tick", "orient": "horizontal", "size": 6, "thickness": 2.6, "color": "#1c1c1c", "opacity": 1},
         "encoding": {
           "x": {"field": "date", "type": "temporal", "scale": {"type": "utc", "nice": false, "domain": [{"year": 2001, "month": 1, "date": 1, "utc": true}, {"year": 2004, "month": 1, "date": 1, "utc": true}]},
                 "axis": {"title": null, "format": "%-d/%-m/%y", "labelAngle": -45, "labelAlign": "right", "labelBaseline": "middle", "labelPadding": 41, "tickSize": 8, "labelFlush": false, "labelOverlap": false, "labelExpr": "utcyear(datum.value) >= 2004 ? '' : datum.label", "values": [{"year": 2001, "month": 1, "date": 1, "utc": true}, {"year": 2001, "month": 7, "date": 1, "utc": true}, {"year": 2002, "month": 1, "date": 1, "utc": true}, {"year": 2002, "month": 7, "date": 1, "utc": true}, {"year": 2003, "month": 1, "date": 1, "utc": true}, {"year": 2003, "month": 7, "date": 1, "utc": true}, {"year": 2004, "month": 1, "date": 1, "utc": true}]}},
           "y": {"field": "load", "type": "quantitative", "scale": {"domain": [0, 1800], "nice": false}, "axis": {"title": "DRP load, g ha⁻¹", "format": "d", "values": [0, 200, 400, 600, 800, 1000, 1200, 1400, 1600, 1800]}}
         }},
        {"data": {"values": [{"label": "Plot 6"}]},
         "mark": {"type": "text", "align": "left", "baseline": "alphabetic", "font": "'Liberation Sans Narrow', 'Roboto Condensed', 'Arial Narrow', 'Liberation Sans', sans-serif", "fontWeight": "bold", "fontSize": 22, "color": "#1a1a1a"},
         "encoding": {
           "x": {"datum": {"year": 2001, "month": 2, "date": 5, "utc": true}, "type": "temporal"},
           "y": {"datum": 1665, "type": "quantitative"},
           "text": {"field": "label"}
         }}
      ]
    }
  ],
  "config": {
    "view": {"stroke": null},
    "font": "Liberation Sans",
    "axis": {
      "grid": true, "gridWidth": 1, "gridOpacity": 1,
      "domainColor": "#333333", "domainWidth": 1.3,
      "tickColor": "#333333", "tickWidth": 1.2,
      "labelFont": "'Liberation Sans Narrow', 'Roboto Condensed', 'Arial Narrow', 'Liberation Sans', sans-serif", "labelFontWeight": "bold", "labelFontSize": 23, "labelColor": "#1a1a1a",
      "titleFont": "Liberation Sans", "titleFontWeight": "bold", "titleFontSize": 24, "titleColor": "#1a1a1a"
    },
    "axisX": {"gridColor": "#555555"},
    "axisY": {"gridColor": "#2a2a2a", "tickSize": 7, "labelPadding": 8, "titlePadding": 21, "titleY": 228, "labelFlush": false, "labelOverlap": false}
  }
}
